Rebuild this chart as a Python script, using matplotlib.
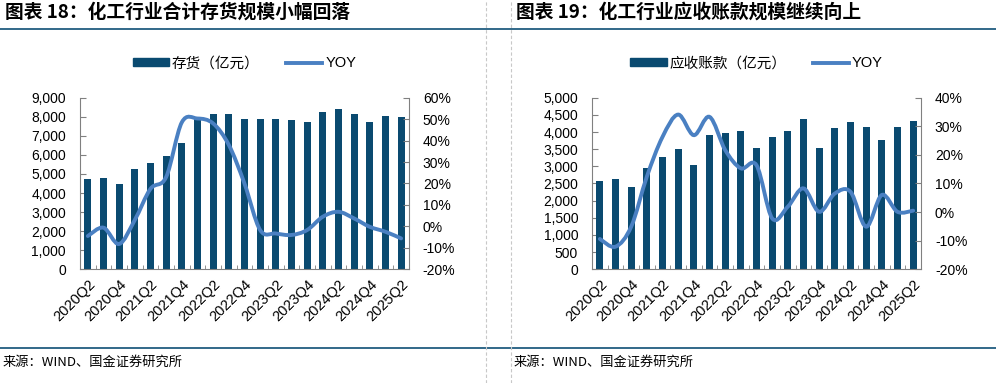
import numpy as np
import matplotlib
matplotlib.use('Agg')
import matplotlib.pyplot as plt
from matplotlib.path import Path
from matplotlib.patches import PathPatch, Patch
from matplotlib.lines import Line2D
from matplotlib.ticker import FuncFormatter, FixedLocator

plt.rcParams['font.family'] = ['Liberation Sans', 'Noto Sans CJK SC']

# -- data --
QUARTERS = ['2020Q2', '2020Q3', '2020Q4', '2021Q1', '2021Q2', '2021Q3', '2021Q4',
            '2022Q1', '2022Q2', '2022Q3', '2022Q4', '2023Q1', '2023Q2', '2023Q3',
            '2023Q4', '2024Q1', '2024Q2', '2024Q3', '2024Q4', '2025Q1', '2025Q2']

INVENTORY = [4740, 4770, 4480, 5260, 5560, 5960, 6620, 7900, 8160, 8130, 7870,
             7870, 7890, 7820, 7750, 8250, 8430, 8130, 7730, 8040, 8010]
INVENTORY_YOY = [-4.5, -0.6, -8.2, 3.0, 17.5, 23.0, 48.5, 50.3, 48.0, 38.0, 20.0,
                 -1.7, -3.3, -4.0, -1.7, 4.5, 6.8, 3.7, -0.2, -2.5, -5.6]

RECEIVABLE = [2580, 2620, 2400, 2940, 3270, 3500, 3040, 3920, 3970, 4030, 3530,
              3860, 4020, 4370, 3540, 4120, 4280, 4140, 3770, 4140, 4310]
RECEIVABLE_YOY = [-9.4, -12.1, -5.1, 12.4, 26.3, 34.1, 26.9, 33.3, 21.7, 15.3, 16.4,
                  -2.2, 1.9, 8.3, 0.1, 6.5, 7.1, -5.1, 6.0, 0.1, 0.5]

BAR_C = '#0a4a70'
LINE_C = '#4a80c2'
RULE_C = '#0e4f75'


def smooth_path(x, y):
    # Excel-like smoothed line: cubic Bezier through the points
    x = np.asarray(x, float)
    y = np.asarray(y, float)
    pts = np.column_stack([x, y])
    n = len(pts)
    verts = [pts[0]]
    codes = [Path.MOVETO]
    for i in range(n - 1):
        p0 = pts[i - 1] if i > 0 else pts[i]
        p1 = pts[i]
        p2 = pts[i + 1]
        p3 = pts[i + 2] if i + 2 < n else pts[i + 1]
        c1 = p1 + (p2 - p0) / 6.0
        c2 = p2 - (p3 - p1) / 6.0
        verts += [c1, c2, p2]
        codes += [Path.CURVE4] * 3
    return Path(verts, codes)


def panel(fig, rect, bars, yoy, ymax, ystep, rmin, rmax, bar_label):
    ax = fig.add_axes(rect)
    x = np.arange(len(QUARTERS))
    ax.bar(x, bars, width=0.45, color=BAR_C, zorder=2)
    ax.set_xlim(-0.5, len(QUARTERS) - 0.5)
    ax.set_ylim(0, ymax)
    ax.set_yticks(np.arange(0, ymax + 1, ystep))
    ax.yaxis.set_major_formatter(FuncFormatter(lambda v, p: f'{int(v):,}'))
    ax.set_xticks(x[::2])
    ax.set_xticklabels(QUARTERS[::2], rotation=45, ha='right', va='top',
                       rotation_mode='anchor')
    ax.xaxis.set_minor_locator(FixedLocator(np.arange(-0.5, len(QUARTERS), 1.0)))
    ax.tick_params(axis='x', which='major', length=0, pad=6, labelsize=10.5)
    ax.tick_params(axis='x', which='minor', direction='in', length=3,
                   color='#808080')
    ax.tick_params(axis='y', direction='in', length=4, color='#808080',
                   pad=10, labelsize=10)
    for s in ['top', 'right']:
        ax.spines[s].set_visible(False)
    for s in ['left', 'bottom']:
        ax.spines[s].set_color('#808080')

    ax2 = ax.twinx()
    ax2.set_ylim(rmin, rmax)
    ax2.set_yticks(np.arange(rmin, rmax + 1, 10))
    ax2.yaxis.set_major_formatter(FuncFormatter(lambda v, p: f'{int(v)}%'))
    ax2.tick_params(axis='y', direction='in', length=4, color='#808080',
                    pad=10, labelsize=10)
    for s in ['top', 'left', 'bottom']:
        ax2.spines[s].set_visible(False)
    ax2.spines['right'].set_color('#808080')
    ax2.add_patch(PathPatch(smooth_path(x, yoy), fill=False, edgecolor=LINE_C,
                            lw=2.8, capstyle='round', zorder=3))

    handles = [Patch(color=BAR_C), Line2D([], [], color=LINE_C, lw=2.8)]
    ax2.legend(handles, [bar_label, 'YOY'], loc='center', ncol=2,
               bbox_to_anchor=(0.5, 1.2), frameon=False, fontsize=10.5,
               handlelength=2.5, handleheight=0.5, handletextpad=0.2,
               columnspacing=1.8)
    return ax, ax2


fig = plt.figure(figsize=(9.96, 3.83), dpi=100)

panel(fig, [0.0803, 0.2969, 0.3303, 0.448], INVENTORY, INVENTORY_YOY,
      9000, 1000, -20, 60, '存货（亿元）')
panel(fig, [0.5944, 0.2969, 0.3303, 0.448], RECEIVABLE, RECEIVABLE_YOY,
      5000, 500, -20, 40, '应收账款（亿元）')

# titles, rules, source
fig.text(5 / 996, 1 - 12.5 / 383, '图表 18：化工行业合计存货规模小幅回落',
         family=['Noto Sans CJK SC'], weight='bold', fontsize=13.5,
         va='center', ha='left')
fig.text(516 / 996, 1 - 12.5 / 383, '图表 19：化工行业应收账款规模继续向上',
         family=['Noto Sans CJK SC'], weight='bold', fontsize=13.5,
         va='center', ha='left')
for yy in [1 - 28.5 / 383, 1 - 347.5 / 383]:
    fig.add_artist(Line2D([0, 1], [yy, yy], color=RULE_C, lw=1.2,
                          transform=fig.transFigure))
for xx in [486.3 / 996, 510.7 / 996]:
    fig.add_artist(Line2D([xx, xx], [0, 1], color='#c8c8c8', lw=0.8,
                          ls=(0, (3, 2)), transform=fig.transFigure))
fig.text(3 / 996, 1 - 362 / 383, '来源：WIND、国金证券研究所',
         family=['Noto Sans CJK SC'], fontsize=9.5, va='center', ha='left')
fig.text(514 / 996, 1 - 362 / 383, '来源：WIND、国金证券研究所',
         family=['Noto Sans CJK SC'], fontsize=9.5, va='center', ha='left')

fig.savefig('out.png', dpi=100)
